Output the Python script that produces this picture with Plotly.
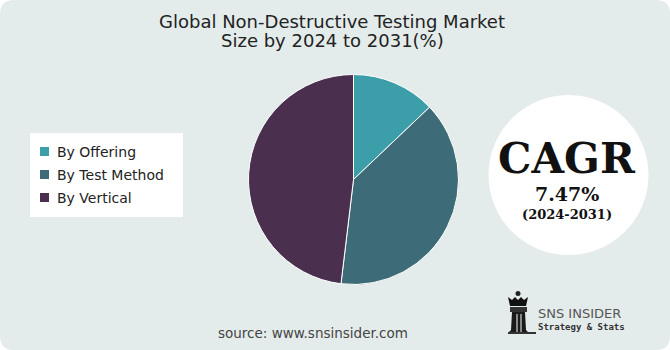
import plotly.graph_objects as go

W, H = 670, 350

categories = ["By Offering", "By Test Method", "By Vertical"]
shares = [12.9, 39.0, 48.1]
colors = ["#3B9EA9", "#3E6B78", "#4A2F4F"]

title_lines = ["Global Non-Destructive Testing Market", "Size by 2024 to 2031(%)"]
cagr_label = "CAGR"
cagr_value = "7.47%"
cagr_period = "(2024-2031)"
source_text = "source: www.snsinsider.com"
brand_name = "SNS INSIDER"
brand_tag = "Strategy & Stats"

BG = "#E4ECEB"


def X(px):
    return px / W


def Y(py):
    return 1 - py / H


def rounded_rect(x0, y0, x1, y1, r):
    return (
        f"M {X(x0 + r)},{Y(y0)} L {X(x1 - r)},{Y(y0)} Q {X(x1)},{Y(y0)} {X(x1)},{Y(y0 + r)} "
        f"L {X(x1)},{Y(y1 - r)} Q {X(x1)},{Y(y1)} {X(x1 - r)},{Y(y1)} "
        f"L {X(x0 + r)},{Y(y1)} Q {X(x0)},{Y(y1)} {X(x0)},{Y(y1 - r)} "
        f"L {X(x0)},{Y(y0 + r)} Q {X(x0)},{Y(y0)} {X(x0 + r)},{Y(y0)} Z"
    )


def poly(points):
    return "M " + " L ".join(f"{X(a)},{Y(b)}" for a, b in points) + " Z"


def rect(x0, y0, x1, y1, color, layer="above"):
    return dict(type="rect", xref="paper", yref="paper",
                x0=X(x0), x1=X(x1), y0=Y(y1), y1=Y(y0),
                fillcolor=color, line=dict(width=0), layer=layer)


cx, cy, R = 353.5, 179.5, 105

fig = go.Figure(
    go.Pie(
        labels=categories,
        values=shares,
        marker=dict(colors=colors, line=dict(color="white", width=1)),
        sort=False,
        direction="clockwise",
        rotation=0,
        textinfo="none",
        hoverinfo="skip",
        showlegend=False,
        domain=dict(x=[X(cx - R), X(cx + R)], y=[Y(cy + R), Y(cy - R)]),
    )
)

shapes = [
    dict(type="path", xref="paper", yref="paper", path=rounded_rect(0, 0, W, H, 14),
         fillcolor=BG, line=dict(width=0), layer="below"),
    dict(type="circle", xref="paper", yref="paper",
         x0=X(568.5 - 80), x1=X(568.5 + 80), y0=Y(175 + 80), y1=Y(175 - 80),
         fillcolor="white", line=dict(width=0), layer="below"),
    # legend box
    rect(30, 133, 183, 217, "white", layer="below"),
    # logo icon
    dict(type="circle", xref="paper", yref="paper",
         x0=X(515.5), x1=X(520.5), y0=Y(296), y1=Y(291),
         fillcolor="#222", line=dict(width=0)),
    dict(type="path", xref="paper", yref="paper",
         path=poly([(508, 297), (512, 300), (515, 297), (518, 300), (521, 297), (524, 300),
                    (528, 297), (526, 306), (510, 306)]),
         fillcolor="#111", line=dict(width=0)),
    rect(510, 307, 527, 312, "#333"),
    dict(type="path", xref="paper", yref="paper",
         path=poly([(512, 312), (525, 312), (526, 330), (529, 333), (508, 333), (511, 330)]),
         fillcolor="#1a1a1a", line=dict(width=0)),
    rect(516, 314, 518, 332, "#888"),
    rect(520, 314, 522, 332, "#888"),
    rect(508, 332, 536, 334, "#333"),
]

annotations = []

# legend entries (custom, matching the reference box)
legend_y = [152, 175, 198]
for lab, col, ly in zip(categories, colors, legend_y):
    shapes.append(rect(40, ly - 5, 49, ly + 4, col))
    annotations.append(dict(text=lab, x=X(55), y=Y(ly), xref="paper", yref="paper",
                            showarrow=False, xanchor="left", yanchor="middle",
                            font=dict(family="DejaVu Sans", size=14, color="#222")))

title_y = [21, 40.5]
for line, ty in zip(title_lines, title_y):
    annotations.append(dict(text=line, x=X(332), y=Y(ty), xref="paper", yref="paper",
                            showarrow=False, xanchor="center", yanchor="middle",
                            font=dict(family="DejaVu Sans", size=18, color="#222")))

annotations += [
    dict(text=f"<b>{cagr_label}</b>", x=X(567), y=Y(158.5), xref="paper", yref="paper",
         showarrow=False, xanchor="center", yanchor="middle",
         font=dict(family="DejaVu Serif", size=42, color="#111")),
    dict(text=f"<b>{cagr_value}</b>", x=X(567), y=Y(193.5), xref="paper", yref="paper",
         showarrow=False, xanchor="center", yanchor="middle",
         font=dict(family="DejaVu Serif", size=19, color="#111")),
    dict(text=f"<b>{cagr_period}</b>", x=X(567), y=Y(214), xref="paper", yref="paper",
         showarrow=False, xanchor="center", yanchor="middle",
         font=dict(family="DejaVu Serif", size=13, color="#111")),
    dict(text=source_text, x=X(313), y=Y(333), xref="paper", yref="paper",
         showarrow=False, xanchor="center", yanchor="middle",
         font=dict(family="DejaVu Sans", size=13.5, color="#444")),
    dict(text=brand_name, x=X(536), y=Y(313.5), xref="paper", yref="paper",
         showarrow=False, xanchor="left", yanchor="middle",
         font=dict(family="DejaVu Sans", size=13, color="#555")),
    dict(text=f"<b>{brand_tag}</b>", x=X(536), y=Y(326.5), xref="paper", yref="paper",
         showarrow=False, xanchor="left", yanchor="middle",
         font=dict(family="DejaVu Sans Mono", size=9, color="#333")),
]

fig.update_layout(
    width=W, height=H,
    margin=dict(l=0, r=0, t=0, b=0),
    paper_bgcolor="white",
    plot_bgcolor="white",
    shapes=shapes,
    annotations=annotations,
    showlegend=False,
)

fig.write_html("out.html", config=dict(displayModeBar=False))
